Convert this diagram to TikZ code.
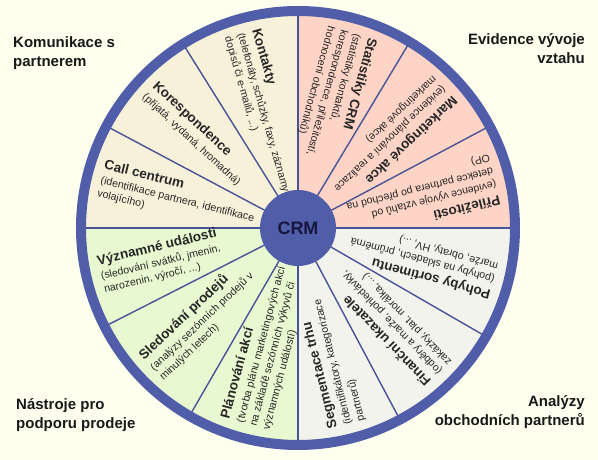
\documentclass[tikz,border=0pt]{standalone}
\usepackage{fontspec}
\setmainfont{Liberation Sans}
\usepackage{tikz}

\definecolor{ivory}{RGB}{255,255,240}
\definecolor{beigeq}{RGB}{248,241,218}
\definecolor{pinkq}{RGB}{253,212,198}
\definecolor{greenq}{RGB}{232,249,210}
\definecolor{greyq}{RGB}{243,243,237}
\definecolor{ringblue}{RGB}{80,94,170}
\definecolor{lineblue}{RGB}{72,82,150}
\definecolor{crmtext}{RGB}{22,22,62}

\newcommand\sektitle[1]{{\fontsize{13.5}{14}\selectfont\bfseries #1}}

\begin{document}
\begin{tikzpicture}[x=1pt,y=1pt,
    sector/.style={anchor=west,inner sep=0,align=left,font=\fontsize{10.6}{13.4}\selectfont,text=black!85},
    corner/.style={inner sep=0,font=\fontsize{15}{19}\selectfont\bfseries,text=black!90},
    divider/.style={draw=lineblue,line width=1.4pt}]
  \useasboundingbox[fill=ivory] (0,0) rectangle (598,460);
  \begin{scope}[shift={(298,232)}]
    % quadrants
    \fill[beigeq] (0,0) -- (90:216) arc (90:180:216) -- cycle;
    \fill[pinkq] (0,0) -- (0:216) arc (0:90:216) -- cycle;
    \fill[greenq] (0,0) -- (180:216) arc (180:270:216) -- cycle;
    \fill[greyq] (0,0) -- (270:216) arc (270:360:216) -- cycle;
    \foreach \a in {0,28,59,90,122,152,180,207,240,270,298,330}
      \draw[divider] (\a:36) -- (\a:214);
    \draw[ringblue,line width=10pt] (0,0) circle (217);
    \node[circle,fill=ringblue,minimum size=76pt,inner sep=0,text=crmtext,font=\fontsize{18}{18}\selectfont\bfseries] (crm) at (0,0) {CRM};
    % Komunikace s partnerem
    \node[sector,rotate=-74] (kontakty) at (106:203) {\sektitle{Kontakty}\\[1.5pt](telefonáty, schůzky, faxy, záznamy\\dopisů či e-mailů, ...)};
    \node[sector,rotate=-43] (koresp) at (137:203) {\sektitle{Korespondence}\\[1.5pt](přijatá, vydaná, hromadná)};
    \node[sector,rotate=-14] (call) at (166:203) {\sektitle{Call centrum}\\[1.5pt](identifikace partnera, identifikace\\volajícího)};
    % Evidence vyvoje vztahu
    \node[sector,rotate=-105.5] (stat) at (74.5:203) {\sektitle{Statistiky CRM}\\[1.5pt](statistiky kontaktů,\\korespondence, příležitostí,\\hodnocení obchodníků)};
    \node[sector,rotate=-136.5] (mark) at (43.5:203) {\sektitle{Marketingové akce}\\[1.5pt](evidence plánování a realizace\\marketingové akce)};
    \node[sector,rotate=-166] (prilez) at (14:203) {\sektitle{Příležitosti}\\[1.5pt](evidence vývoje vztahů od\\detekce partnera po přechod na\\OP)};
    % Analyzy obchodnich partneru
    \node[sector,rotate=165] (pohyby) at (345:203) {\sektitle{Pohyby sortimentu}\\[1.5pt](pohyby na skladech, průměrná\\marže, obraty, HV, ...)};
    \node[sector,rotate=134] (financ) at (314:203) {\sektitle{Finanční ukazatele}\\[1.5pt](odběry a marže, pohledávky,\\zakázky, plat. morálka, ...)};
    \node[sector,rotate=104] (segm) at (284:203) {\sektitle{Segmentace trhu}\\[1.5pt](identifikátory, kategorizace\\partnerů)};
    % Nastroje pro podporu prodeje
    \node[sector,rotate=13.5] (udal) at (193.5:203) {\sektitle{Významné události}\\[1.5pt](sledování svátků, jmenin,\\narozenin, výročí, ...)};
    \node[sector,rotate=43.5] (sled) at (223.5:203) {\sektitle{Sledování prodejů}\\[1.5pt](analýzy sezónních prodejů v\\minulých letech)};
    \node[sector,rotate=75] (plan) at (255:203) {\sektitle{Plánování akcí}\\[1.5pt](tvorba plánu marketingových akcí\\na základě sezónních výkyvů či\\významných událostí)};
  \end{scope}
  \node[corner,anchor=north west,align=left] (kom) at (13,424) {Komunikace s\\partnerem};
  \node[corner,anchor=north east,align=right] (evid) at (585,427) {Evidence vývoje\\vztahu};
  \node[corner,anchor=north west,align=left] (nastr) at (16,62) {Nástroje pro\\podporu prodeje};
  \node[corner,anchor=north east,align=right] (anal) at (585,65) {Analýzy\\obchodních partnerů};
\end{tikzpicture}
\end{document}
